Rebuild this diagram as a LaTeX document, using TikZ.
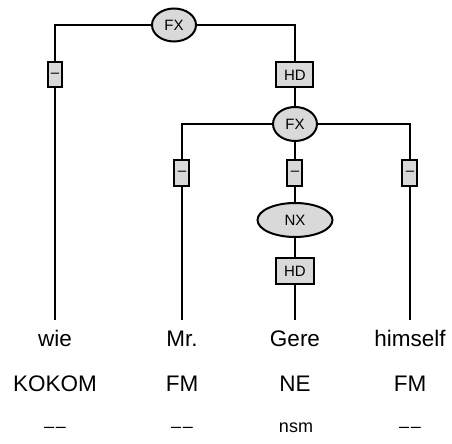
\documentclass[tikz,border=0pt]{standalone}
\usepackage{fontspec}
\setmainfont{Liberation Sans}
\usetikzlibrary{shapes.geometric}
\newcommand{\nodash}{\textendash\kern0.9pt\textendash}
\tikzset{
	cat/.style={ellipse, draw, fill=black!15, line width=1pt, inner sep=0pt, font=\fontsize{7.5}{8}\selectfont},
	fun/.style={rectangle, draw, fill=black!15, line width=1pt, inner sep=0pt, font=\fontsize{7.5}{8}\selectfont},
	word/.style={anchor=base, inner xsep=0pt, inner ysep=5pt, text height=8.5pt, text depth=0pt, font=\fontsize{11.25}{13}\selectfont},
	tag/.style={anchor=base, inner sep=0pt, font=\fontsize{11.25}{13}\selectfont},
	morph/.style={anchor=base, inner sep=0pt, font=\fontsize{9}{11}\selectfont},
	edge/.style={line width=1pt}
}
\begin{document}
\begin{tikzpicture}[x=0.5pt, y=-0.5pt]
	\useasboundingbox (0,0) rectangle (452,444);
	
	% upper FX
	\node[cat, minimum width=22pt, minimum height=16.5pt] (fxtop) at (174,25) {FX};
	\node[fun, minimum width=7pt, minimum height=12.5pt] (dwie) at (55,75) {–};
	\node[fun, minimum width=18.5pt, minimum height=12.5pt] (hdtop) at (295,75) {HD};
	
	% lower FX
	\node[cat, minimum width=22pt, minimum height=17pt] (fxlow) at (295,124) {FX};
	\node[fun, minimum width=7.5pt, minimum height=13pt] (dmr) at (182,173) {–};
	\node[fun, minimum width=7.5pt, minimum height=13pt] (dgere) at (295,173) {–};
	\node[fun, minimum width=7.5pt, minimum height=13pt] (dhim) at (410,173) {–};
	\node[cat, minimum width=37.5pt, minimum height=17pt] (nx) at (295,220) {NX};
	\node[fun, minimum width=19pt, minimum height=13pt] (hdlow) at (295,271) {HD};
	
	% words, tags, morphology
	\node[word] (wie) at (55,347) {wie};
	\node[word] (mr) at (182,347) {Mr.};
	\node[word] (gere) at (295,347) {Gere};
	\node[word] (himself) at (410,347) {himself};
	
	\node[tag] (twie) at (55,392) {KOKOM};
	\node[tag] (tmr) at (182,392) {FM};
	\node[tag] (tgere) at (295,392) {NE};
	\node[tag] (thimself) at (410,392) {FM};
	
	\node[morph] (mwie) at (55,433) {\nodash};
	\node[morph] (mmr) at (182,433) {\nodash};
	\node[morph] (mgere) at (296,433) {nsm};
	\node[morph] (mhimself) at (410,433) {\nodash};
	
	% edges
	\draw[edge] (fxtop.west) -| (dwie.north);
	\draw[edge] (dwie.south) -- (wie.north);
	\draw[edge] (fxtop.east) -| (hdtop.north);
	\draw[edge] (hdtop.south) -- (fxlow.north);
	
	\draw[edge] (fxlow.west) -| (dmr.north);
	\draw[edge] (dmr.south) -- (mr.north);
	\draw[edge] (fxlow.south) -- (dgere.north);
	\draw[edge] (dgere.south) -- (nx.north);
	\draw[edge] (nx.south) -- (hdlow.north);
	\draw[edge] (hdlow.south) -- (gere.north);
	\draw[edge] (fxlow.east) -| (dhim.north);
	\draw[edge] (dhim.south) -- (himself.north);
\end{tikzpicture}
\end{document}
